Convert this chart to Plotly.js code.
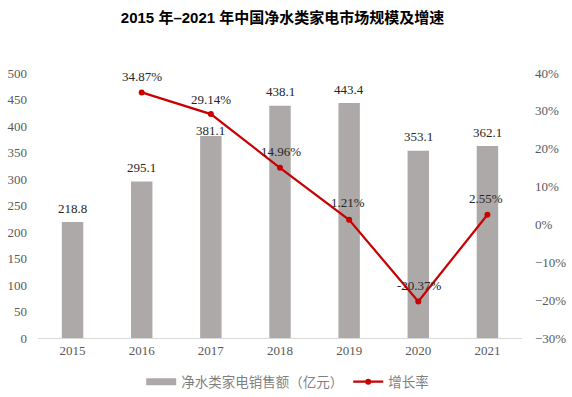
<!DOCTYPE html>
<html><head><meta charset="utf-8">
<script src="https://cdn.plot.ly/plotly-3.0.1.min.js"></script>
<style>html,body{margin:0;padding:0;background:#fff}#chart{width:572px;height:397px}</style>
</head><body><div id="chart"></div>
<script>
const years = [2015, 2016, 2017, 2018, 2019, 2020, 2021];
const sales = [218.8, 295.1, 381.1, 438.1, 443.4, 353.1, 362.1];
const growthYears = [2016, 2017, 2018, 2019, 2020, 2021];
const growth = [34.87, 29.14, 14.96, 1.21, -20.37, 2.55];
const growthLabels = ['34.87%','29.14%','14.96%','1.21%','-20.37%','2.55%'];
const seriesNames = ['净水类家电销售额（亿元）', '增长率'];
const barLabelShift = [14, 14, 6, 14, 14, 14, 14];
const lineLabelShift = [[0,16],[0,15],[1,16],[-1,17],[1,16],[-1,16]];

const serif = 'Liberation Serif, Times New Roman, serif';
const barColor = '#ADA9A9';
const traces = [
  {type:'bar', x:years, y:sales, name:seriesNames[0], marker:{color:barColor}, width:0.31, hoverinfo:'none', showlegend:false},
  {type:'scatter', mode:'lines', x:[null], y:[null], name:seriesNames[0], line:{color:barColor, width:7}, hoverinfo:'none', legendrank:1},
  {type:'scatter', mode:'lines+markers', x:growthYears, y:growth, yaxis:'y2', name:seriesNames[1],
   line:{color:'#C80000', width:2.2}, marker:{color:'#C80000', size:6}, hoverinfo:'none', legendrank:2}
];
const ann = [];
years.forEach((y,i)=>ann.push({x:y, y:sales[i], xref:'x', yref:'y', text:sales[i].toFixed(1), showarrow:false,
  yanchor:'middle', yshift:barLabelShift[i], font:{family:serif, size:13, color:'#262626'}}));
growthYears.forEach((y,i)=>ann.push({x:y, y:growth[i], xref:'x', yref:'y2', text:growthLabels[i], showarrow:false,
  yanchor:'middle', xshift:lineLabelShift[i][0], yshift:lineLabelShift[i][1], font:{family:serif, size:13, color:'#262626'}}));

const layout = {
  width:572, height:397, margin:{l:38, r:50, t:73, b:59},
  paper_bgcolor:'#fff', plot_bgcolor:'#fff',
  title:{text:'<b>2015 年–2021 年中国净水类家电市场规模及增速</b>', x:0.494, xanchor:'center', y:0.955, yanchor:'middle',
    font:{family:'Liberation Sans, Noto Sans CJK SC, sans-serif', size:15, color:'#000'}},
  showlegend:true,
  legend:{orientation:'h', x:0.503, xanchor:'center', xref:'container', yref:'container', y:0.038, yanchor:'middle',
    font:{family:'Noto Sans CJK SC, sans-serif', size:13.5, color:'#7F7F7F'}, itemwidth:30},
  xaxis:{type:'linear', range:[2014.5, 2021.5], tickmode:'array', tickvals:years, ticktext:years.map(String),
    showline:true, linecolor:'#D9D9D9', linewidth:1, ticks:'', showgrid:false, zeroline:false,
    tickfont:{family:serif, size:13, color:'#595959'}},
  yaxis:{range:[0,500], dtick:50, showgrid:false, zeroline:false, showline:false,
    tickfont:{family:serif, size:13, color:'#595959'}, ticklabelstandoff:10},
  yaxis2:{range:[-30,40], dtick:10, overlaying:'y', side:'right', showgrid:false, zeroline:false, showline:false,
    ticksuffix:'%', tickfont:{family:serif, size:13, color:'#595959'}, ticklabelstandoff:12},
  annotations:ann
};
Plotly.newPlot('chart', traces, layout, {displayModeBar:false, staticPlot:true});
</script></body></html>
